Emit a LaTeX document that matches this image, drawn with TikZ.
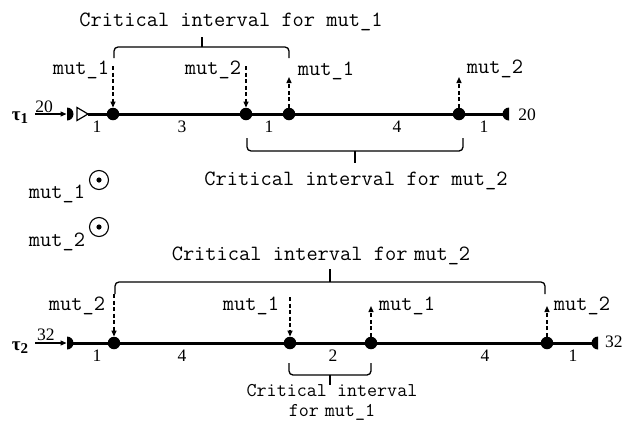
\documentclass[tikz,border=0pt]{standalone}
\usepackage{fontspec}
\setmainfont{Liberation Serif}
\usetikzlibrary{arrows.meta}
\begin{document}
\begin{tikzpicture}[x=1pt,y=-1pt,
  mono/.style={font=\ttfamily\fontsize{21.8}{16}\selectfont,inner sep=0pt,anchor=base},
  num/.style={font=\fontsize{17.5}{18}\selectfont,inner sep=0pt,anchor=base},
  taulab/.style={font=\bfseries\fontsize{19}{18}\selectfont,inner sep=0pt,anchor=base},
  dot/.style={circle,fill=black,inner sep=0pt,minimum size=12.5pt},
  tline/.style={line width=3pt},
  sig/.style={line width=1.3pt,dash pattern=on 4pt off 2.5pt,-{Triangle[length=6pt,width=5pt]}},
  brc/.style={line width=1.3pt,rounded corners=4pt},
  feed/.style={line width=1.2pt,-{Triangle[length=6pt,width=5pt]}},
  odot/.style={circle,draw,line width=1.1pt,minimum size=19pt,inner sep=0pt,
    path picture={\fill (path picture bounding box.center) circle[radius=2.6pt];}}]
\useasboundingbox (0,0) rectangle (622,421);

% ---------------- task 1 ----------------
\node[taulab] (tau1) at (20,120) {τ\raisebox{-0.35ex}{\fontsize{15}{15}\selectfont 1}};
\node[num] (in1) at (44,112) {20};
\coordinate (a1) at (35,114);
\coordinate (h1) at (66.5,114);
\begin{scope}\clip (67,104) rectangle (76,124); \fill (67,114) circle[radius=6.5]; \end{scope}
\draw[feed] (a1) -- (h1);
\coordinate (s1) at (88,114);
\coordinate (e1) at (505,114);
\draw[tline] (s1) -- (e1);
\draw[line width=1.2pt,fill=white] (77,107.5) -- (s1) -- (77,120.5) -- cycle;
\begin{scope}\clip (497,104) rectangle (509,124); \fill (509,114) circle[radius=6.5]; \end{scope}
\node[num] (out1) at (527,120) {20};

\node[dot] (d11) at (113,114) {};
\node[dot] (d12) at (246,114) {};
\node[dot] (d13) at (289,114) {};
\node[dot] (d14) at (459,114) {};

\node[num] (w11) at (97,132) {1};
\node[num] (w12) at (182,132) {3};
\node[num] (w13) at (269,132) {1};
\node[num] (w14) at (397,132) {4};
\node[num] (w15) at (484,132) {1};

\coordinate (p11) at (113,66);
\coordinate (p12) at (246,66);
\coordinate (p13) at (289,77);
\coordinate (p14) at (459,77);
\draw[sig] (p11) -- (d11);
\draw[sig] (p12) -- (d12);
\draw[sig] (d13) -- (p13);
\draw[sig] (d14) -- (p14);
\node[mono] (l11) at (81,74) {mut\_1};
\node[mono] (l12) at (213,74) {mut\_2};
\node[mono] (l13) at (326,75) {mut\_1};
\node[mono] (l14) at (495,73) {mut\_2};

\draw[brc] (114,58) -- (114,47) -- (289,47) -- (289,58);
\draw[line width=1.3pt] (202,47) -- (202,37);
\node[mono] (c11) at (231,26) {Critical interval for mut\_1};

\draw[brc] (247,138) -- (247,151) -- (463,151) -- (463,138);
\draw[line width=1.3pt] (355,151) -- (355,163);
\node[mono] (c12) at (356,185) {Critical interval for mut\_2};

% ---------------- legend ----------------
\node[mono] (g1) at (57,198) {mut\_1};
\node[odot] (o1) at (99,180) {};
\node[mono] (g2) at (57,246) {mut\_2};
\node[odot] (o2) at (99,227) {};

% ---------------- task 2 ----------------
\node[taulab] (tau2) at (20,350) {τ\raisebox{-0.35ex}{\fontsize{15}{15}\selectfont 2}};
\node[num] (in2) at (46,340) {32};
\coordinate (a2) at (35,343);
\coordinate (h2) at (66.5,343);
\begin{scope}\clip (67,333) rectangle (76,353); \fill (67,343) circle[radius=6.5]; \end{scope}
\draw[feed] (a2) -- (h2);
\coordinate (s2) at (70,343);
\coordinate (e2) at (594,343);
\draw[tline] (s2) -- (e2);
\begin{scope}\clip (586,333) rectangle (598,353); \fill (598,343) circle[radius=6.5]; \end{scope}
\node[num,anchor=base west] (out2) at (605,347) {32};

\node[dot] (d21) at (114,343) {};
\node[dot] (d22) at (290,343) {};
\node[dot] (d23) at (371,343) {};
\node[dot] (d24) at (547,343) {};

\node[num] (w21) at (97,361) {1};
\node[num] (w22) at (182,361) {4};
\node[num] (w23) at (333,361) {2};
\node[num] (w24) at (485,361) {4};
\node[num] (w25) at (573,361) {1};

\coordinate (p21) at (114,294);
\coordinate (p22) at (290,297);
\coordinate (p23) at (371,306);
\coordinate (p24) at (547,306);
\draw[sig] (p21) -- (d21);
\draw[sig] (p22) -- (d22);
\draw[sig] (d23) -- (p23);
\draw[sig] (d24) -- (p24);
\node[mono] (l21) at (77,310) {mut\_2};
\node[mono] (l22) at (251,310) {mut\_1};
\node[mono] (l23) at (407,310) {mut\_1};
\node[mono] (l24) at (582,310) {mut\_2};

\draw[brc] (115,294) -- (115,282) -- (545,282) -- (545,294);
\draw[line width=1.3pt] (330,282) -- (330,269);
\node[mono] (c21) at (321,260) {Critical interval for\hspace{0.3em}mut\_2};

\draw[brc] (289,363) -- (289,375) -- (371,375) -- (371,363);
\draw[line width=1.3pt] (330,375) -- (330,385);
\node[mono,font=\ttfamily\fontsize{19.5}{16}\selectfont] (c22) at (332,396) {Critical interval};
\node[mono,font=\ttfamily\fontsize{19.5}{16}\selectfont] (c23) at (332,416) {for\hspace{0.3em}mut\_1};
\end{tikzpicture}
\end{document}
